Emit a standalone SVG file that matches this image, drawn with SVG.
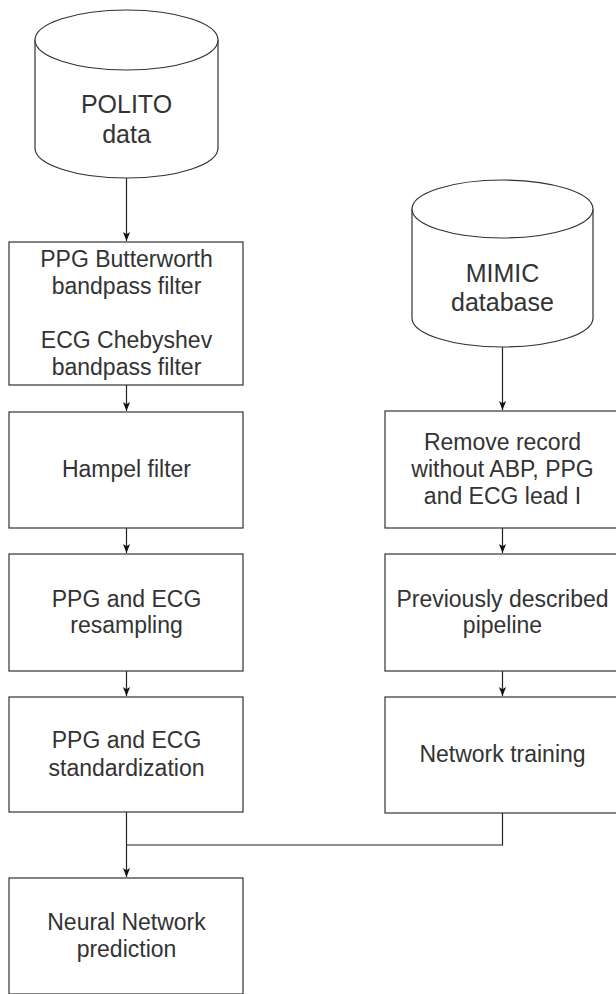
<svg xmlns="http://www.w3.org/2000/svg" width="616" height="994" viewBox="0 0 616 994">
<style>
.box{fill:#fff;stroke:#333;stroke-width:1.2}
.cyl{fill:#fff;stroke:#333;stroke-width:1.2}
.t{font-family:"Liberation Sans",Arial,sans-serif;font-size:23px;fill:#333;text-anchor:middle}
.tc{font-family:"Liberation Sans",Arial,sans-serif;font-size:25px;fill:#333;text-anchor:middle}
.c{fill:none;stroke:#222;stroke-width:1.2}
</style>
<defs>
<marker id="arr" viewBox="0 0 10 10" refX="10" refY="5" markerWidth="9" markerHeight="10" markerUnits="userSpaceOnUse" orient="auto">
<path d="M0,1 L10,5 L0,9 L2.5,5 Z" fill="#111"/>
</marker>
</defs>
<rect width="616" height="994" fill="#fff"/>
<g id="connectors">
<path class="c" d="M126.5,178 V241" marker-end="url(#arr)"/>
<path class="c" d="M126.5,385 V411" marker-end="url(#arr)"/>
<path class="c" d="M126.5,528 V553" marker-end="url(#arr)"/>
<path class="c" d="M126.5,671 V696" marker-end="url(#arr)"/>
<path class="c" d="M126.5,812 V877" marker-end="url(#arr)"/>
<path class="c" d="M502.5,813 V845 H126.5"/>
<path class="c" d="M502.5,347 V410" marker-end="url(#arr)"/>
<path class="c" d="M502.5,528 V553" marker-end="url(#arr)"/>
<path class="c" d="M502.5,671 V696" marker-end="url(#arr)"/>
</g>
<g id="polito">
<path class="cyl" d="M35,40 A91.5,30 0 0 1 218,40 L218,148 A91.5,30 0 0 1 35,148 Z"/>
<path class="cyl" fill="none" d="M35,40 A91.5,30 0 0 0 218,40"/>
<text class="tc" x="126.5" y="113">POLITO</text>
<text class="tc" x="126.5" y="143">data</text>
</g>
<g id="filters">
<rect class="box" x="9" y="242" width="234" height="143"/>
<text class="t" x="126.5" y="267">PPG Butterworth</text>
<text class="t" x="126.5" y="294">bandpass filter</text>
<text class="t" x="126.5" y="348">ECG Chebyshev</text>
<text class="t" x="126.5" y="375">bandpass filter</text>
</g>
<g id="hampel">
<rect class="box" x="9" y="412" width="234" height="116"/>
<text class="t" x="126.5" y="477">Hampel filter</text>
</g>
<g id="resampling">
<rect class="box" x="9" y="554" width="234" height="117"/>
<text class="t" x="126.5" y="607">PPG and ECG</text>
<text class="t" x="126.5" y="633">resampling</text>
</g>
<g id="standardization">
<rect class="box" x="9" y="697" width="234" height="115"/>
<text class="t" x="126.5" y="748">PPG and ECG</text>
<text class="t" x="126.5" y="776">standardization</text>
</g>
<g id="prediction">
<rect class="box" x="9" y="878" width="234" height="116"/>
<text class="t" x="126.5" y="930">Neural Network</text>
<text class="t" x="126.5" y="957">prediction</text>
</g>
<g id="mimic">
<path class="cyl" d="M412,209 A90.5,29 0 0 1 593,209 L593,318 A90.5,29 0 0 1 412,318 Z"/>
<path class="cyl" fill="none" d="M412,209 A90.5,29 0 0 0 593,209"/>
<text class="tc" x="502.5" y="282">MIMIC</text>
<text class="tc" x="502.5" y="311">database</text>
</g>
<g id="remove">
<rect class="box" x="385" y="411" width="234" height="117"/>
<text class="t" x="502.5" y="450">Remove record</text>
<text class="t" x="502.5" y="477">without ABP, PPG</text>
<text class="t" x="502.5" y="504">and ECG lead I</text>
</g>
<g id="pipeline">
<rect class="box" x="385" y="554" width="234" height="117"/>
<text class="t" x="502.5" y="607">Previously described</text>
<text class="t" x="502.5" y="633">pipeline</text>
</g>
<g id="training">
<rect class="box" x="385" y="697" width="234" height="116"/>
<text class="t" x="502.5" y="762">Network training</text>
</g>
</svg>
